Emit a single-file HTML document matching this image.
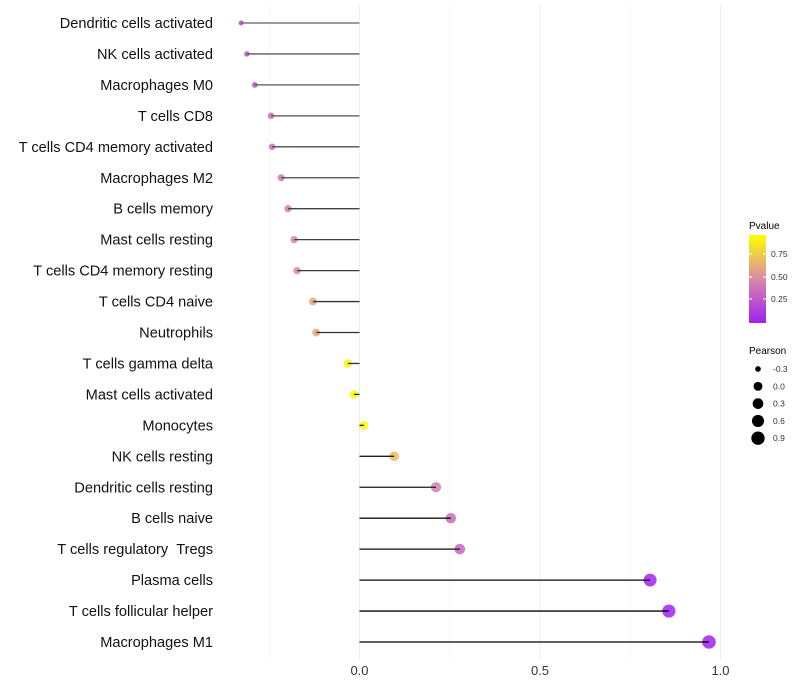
<!DOCTYPE html>
<html><head><meta charset="utf-8"><style>
body{margin:0;background:#fff;font-family:"Liberation Sans",sans-serif}
svg{display:block}
</style></head><body>
<svg id="chart" width="800" height="700" font-family="Liberation Sans, sans-serif">
<defs><linearGradient id="pg" x1="0" y1="1" x2="0" y2="0">
<stop offset="0" stop-color="#a020f0"/><stop offset="0.5" stop-color="#d98aa8"/><stop offset="1" stop-color="#ffff00"/></linearGradient></defs>
<g id="grid"></g><g id="marks"></g><g id="labels"></g>
<g>
<text x="749" y="229" font-size="10" fill="#000">Pvalue</text>
<rect x="749" y="235" width="17" height="88" fill="url(#pg)"/>
<line x1="749" y1="254" x2="752" y2="254" stroke="#fff"/><line x1="763" y1="254" x2="766" y2="254" stroke="#fff"/>
<line x1="749" y1="277" x2="752" y2="277" stroke="#fff"/><line x1="763" y1="277" x2="766" y2="277" stroke="#fff"/>
<line x1="749" y1="299" x2="752" y2="299" stroke="#fff"/><line x1="763" y1="299" x2="766" y2="299" stroke="#fff"/>
<text x="771" y="257" font-size="8.5" fill="#333">0.75</text>
<text x="771" y="280" font-size="8.5" fill="#333">0.50</text>
<text x="771" y="302" font-size="8.5" fill="#333">0.25</text>
</g>
<g id="sizeLegend">
<text x="749" y="354" font-size="10" fill="#000">Pearson</text>
</g>
</svg>
<script>
const cells=["Dendritic cells activated","NK cells activated","Macrophages M0","T cells CD8","T cells CD4 memory activated","Macrophages M2","B cells memory","Mast cells resting","T cells CD4 memory resting","T cells CD4 naive","Neutrophils","T cells gamma delta","Mast cells activated","Monocytes","NK cells resting","Dendritic cells resting","B cells naive","T cells regulatory\u00a0\u00a0Tregs","Plasma cells","T cells follicular helper","Macrophages M1"];
const pearson=[-0.328,-0.312,-0.29,-0.245,-0.242,-0.217,-0.198,-0.181,-0.173,-0.129,-0.12,-0.032,-0.015,0.012,0.096,0.212,0.253,0.278,0.805,0.857,0.968];
const pvalues=[0.18,0.2,0.25,0.36,0.37,0.4,0.44,0.47,0.5,0.62,0.65,0.95,0.97,0.98,0.72,0.45,0.36,0.33,0.03,0.02,0.005];
const xTicks=[0,0.5,1];
const xTickLabels=["0.0","0.5","1.0"];
const sizeBreaks=[-0.3,0,0.3,0.6,0.9];
const sizeLabels=["-0.3","0.0","0.3","0.6","0.9"];
const NS="http://www.w3.org/2000/svg";
const X=v=>359.5+v*361;
const Y=i=>23+i*30.95;
const R=v=>2+4.8*Math.sqrt(Math.max(0,(v+0.34)/1.31));
function lerp(a,b,t){return a+(b-a)*t}
function col(p){const s=[[160,32,240],[217,138,168],[255,255,0]];const t=Math.min(1,Math.max(0,p/1.0));let a,b,u;if(t<0.5){a=s[0];b=s[1];u=t/0.5}else{a=s[1];b=s[2];u=(t-0.5)/0.5}return `rgb(${Math.round(lerp(a[0],b[0],u))},${Math.round(lerp(a[1],b[1],u))},${Math.round(lerp(a[2],b[2],u))})`}
function mk(t,at,par){const e=document.createElementNS(NS,t);for(const k in at)e.setAttribute(k,at[k]);par.appendChild(e);return e}
const grid=document.getElementById('grid'),marks=document.getElementById('marks'),labels=document.getElementById('labels');
[-0.25,0.25,0.75].forEach(v=>{const g=mk('line',{x1:X(v),x2:X(v),y1:5,y2:660,stroke:'#f3f3f3','stroke-width':0.6},grid);

});
xTicks.forEach((v,i)=>{const g=mk('line',{x1:X(v),x2:X(v),y1:5,y2:660,stroke:'#ededed','stroke-width':1},grid);


const t=mk('text',{x:X(v),y:675,'font-size':13,'text-anchor':'middle',fill:'#333'},labels);t.textContent=xTickLabels[i];

});
cells.forEach((c,i)=>{const y=Y(i);
const t=mk('text',{x:213,y:y+5,'font-size':14.6,'text-anchor':'end',fill:'#111'},labels);t.textContent=c;


const p=mk('circle',{cx:X(pearson[i]),cy:y,r:R(pearson[i]),fill:col(pvalues[i]),'fill-opacity':0.85},marks);


const g=Math.round(lerp(95,0,i/20));
const l=mk('line',{x1:X(0),x2:X(pearson[i]),y1:y,y2:y,stroke:`rgb(${g},${g},${g})`,'stroke-width':1.3},marks);

});
const sl=document.getElementById('sizeLegend');
sizeBreaks.forEach((v,i)=>{const y=369+i*17.3;
const c=mk('circle',{cx:758,cy:y,r:R(v),fill:'#000'},sl);


const t=mk('text',{x:773,y:y+3,'font-size':8.5,fill:'#333'},sl);t.textContent=sizeLabels[i];

});
</script>
</body></html>
